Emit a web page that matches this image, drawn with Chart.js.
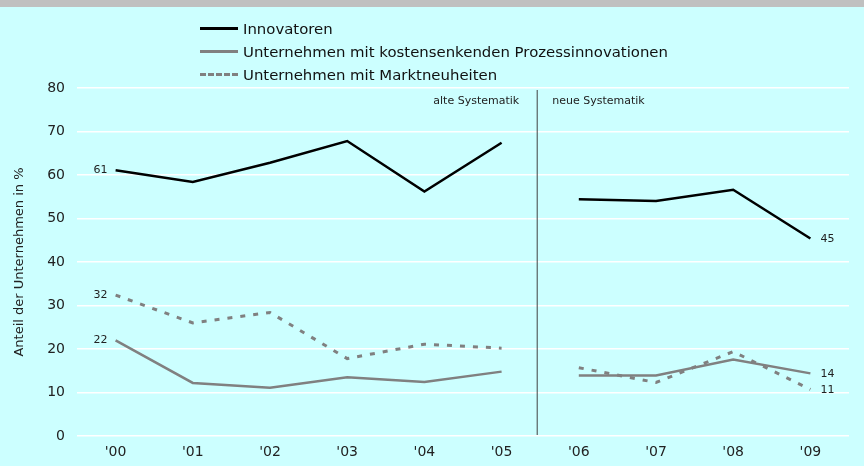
<!DOCTYPE html>
<html>
<head>
<meta charset="utf-8">
<script src="https://cdn.jsdelivr.net/npm/chart.js@4.4.1/dist/chart.umd.min.js"></script>
<style>
  html, body { margin: 0; padding: 0; }
  #wrap { position: relative; width: 864px; height: 466px; background: #ccffff; overflow: hidden; }
  #band { position: absolute; left: 0; top: 0; width: 864px; height: 7px; background: #c0c0c0; }
  #chart { position: absolute; left: 0; top: 0; }
  #legend { position: absolute; left: 200px; top: 17px; font-family: "DejaVu Sans", Verdana, sans-serif; font-size: 14px; color: #111; }
  .row { height: 23px; display: flex; align-items: center; white-space: nowrap; }
  .sw { width: 38px; height: 0; margin-right: 5px; flex: none; }
  .txt { display: inline-block; transform-origin: left center; }
</style>
</head>
<body>
<div id="wrap">
  <div id="band"></div>
  <canvas id="chart" width="864" height="466"></canvas>
  <div id="legend"></div>
</div>
<script>
// values, share of firms in %
const years = ["'00", "'01", "'02", "'03", "'04", "'05", "'06", "'07", "'08", "'09"];
const innovatoren = [61.1, 58.4, 62.8, 67.8, 56.2, 67.4, 54.4, 54.0, 56.6, 45.4];
const prozess = [22.0, 12.2, 11.1, 13.5, 12.4, 14.8, 13.9, 13.9, 17.6, 14.4];
const markt = [32.4, 26.0, 28.4, 17.8, 21.1, 20.2, 15.7, 12.3, 19.4, 10.7];
const seriesNames = ['Innovatoren', 'Unternehmen mit kostensenkenden Prozessinnovationen', 'Unternehmen mit Marktneuheiten'];
const yTicks = [0, 10, 20, 30, 40, 50, 60, 70, 80];
const breakAfter = 5; // alte / neue Systematik

const FONT = '"DejaVu Sans", Verdana, sans-serif';

function lineSet(label, data, color, dash) {
  return {
    label,
    data,
    borderColor: color,
    borderWidth: dash ? 3 : 2.5,
    borderDash: dash || [],
    pointRadius: 0,
    tension: 0,
    fill: false,
    segment: {
      borderColor: c => c.p0DataIndex === breakAfter ? 'transparent' : undefined
    }
  };
}

const extras = {
  id: 'extras',
  afterDatasetsDraw(chart) {
    const { ctx, chartArea, scales } = chart;
    const x = scales.x, y = scales.y;
    const xs = (x.getPixelForValue(breakAfter) + x.getPixelForValue(breakAfter + 1)) / 2 - 3;
    ctx.save();
    ctx.strokeStyle = '#404040';
    ctx.lineWidth = 1;
    ctx.beginPath();
    ctx.moveTo(xs, chartArea.top + 2);
    ctx.lineTo(xs, chartArea.bottom - 1);
    ctx.stroke();

    ctx.fillStyle = '#222';
    ctx.font = '11px ' + FONT;
    ctx.textBaseline = 'middle';
    ctx.textAlign = 'right';
    ctx.fillText('alte Systematik', xs - 18, chartArea.top + 13);
    ctx.textAlign = 'left';
    ctx.fillText('neue Systematik', xs + 15, chartArea.top + 13);

    // first / last value labels
    chart.data.datasets.forEach(ds => {
      const first = ds.data[0], last = ds.data[ds.data.length - 1];
      ctx.textAlign = 'right';
      ctx.fillText(String(Math.round(first)), x.getPixelForValue(0) - 8, y.getPixelForValue(first));
      ctx.textAlign = 'left';
      ctx.fillText(String(Math.round(last)), x.getPixelForValue(ds.data.length - 1) + 10, y.getPixelForValue(last) + 1);
    });
    ctx.restore();
  }
};

const chart = new Chart(document.getElementById('chart'), {
  type: 'line',
  data: {
    labels: years,
    datasets: [
      lineSet(seriesNames[2], markt, '#808080', [5, 8]),
      lineSet(seriesNames[1], prozess, '#808080'),
      lineSet(seriesNames[0], innovatoren, '#000000')
    ]
  },
  options: {
    animation: false,
    responsive: false,
    layout: { padding: { top: 88, right: 15, left: 0, bottom: 0 } },
    scales: {
      x: {
        offset: true,
        grid: { display: false },
        border: { display: false },
        ticks: { color: '#222', font: { family: FONT, size: 14 }, padding: 0 },
        afterFit: s => { s.height = 30; }
      },
      y: {
        min: 0,
        max: 80,
        afterBuildTicks: s => { s.ticks = yTicks.map(v => ({ value: v })); },
        grid: { color: '#ffffff', lineWidth: 1.5, drawTicks: false },
        border: { display: false },
        ticks: { color: '#222', font: { family: FONT, size: 14 }, padding: 12 },
        title: {
          display: true,
          text: 'Anteil der Unternehmen in %',
          color: '#222',
          font: { family: FONT, size: 13 },
          padding: { top: 12, bottom: 4 }
        },
        afterFit: s => { s.width = 77; }
      }
    },
    plugins: {
      legend: { display: false },
      tooltip: { enabled: false }
    }
  },
  plugins: [extras]
});

// html legend, text width fitted to the original
const legendDefs = [
  { name: seriesNames[0], style: 'border-top: 3px solid #000' },
  { name: seriesNames[1], style: 'border-top: 3px solid #808080' },
  { name: seriesNames[2], style: 'border-top: 3px dashed #808080' }
];
const legendEl = document.getElementById('legend');
legendEl.innerHTML = legendDefs.map(d =>
  '<div class="row"><span class="sw" style="' + d.style + '"></span><span class="txt">' + d.name + '</span></div>'
).join('');
const longest = legendEl.querySelectorAll('.txt')[1];
const squeeze = 425 / longest.getBoundingClientRect().width;
legendEl.querySelectorAll('.txt').forEach(t => { t.style.transform = 'scaleX(' + squeeze.toFixed(3) + ')'; });
</script>
</body>
</html>
